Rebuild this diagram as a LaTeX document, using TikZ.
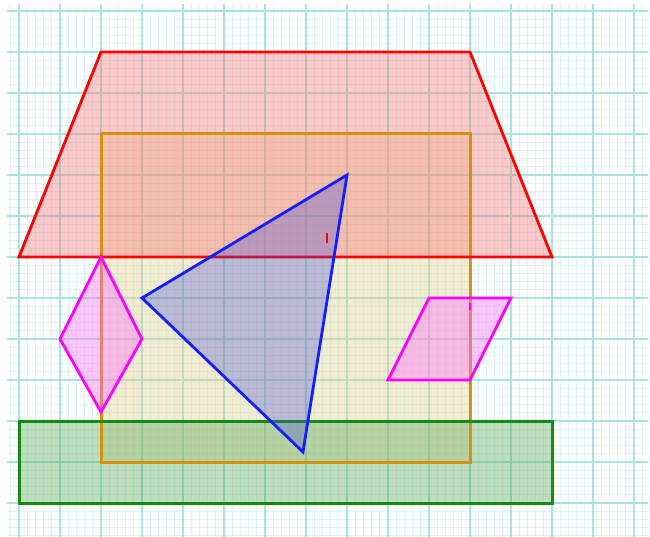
\documentclass[tikz,border=0pt]{standalone}
\definecolor{gridminor}{RGB}{222,245,245}
\definecolor{gridmajor}{RGB}{168,228,228}
\definecolor{redline}{RGB}{255,0,0}
\definecolor{redfill}{RGB}{246,120,120}
\definecolor{orangeline}{RGB}{210,145,15}
\definecolor{orangefill}{RGB}{225,205,140}
\definecolor{greenline}{RGB}{20,140,20}
\definecolor{greenfill}{RGB}{90,170,90}
\definecolor{magline}{RGB}{255,0,255}
\definecolor{magfill}{RGB}{255,110,255}
\definecolor{blueline}{RGB}{20,30,255}
\definecolor{bluefill}{RGB}{60,70,220}
\begin{document}
\begin{tikzpicture}[x=1pt,y=-1pt,
  minorgrid/.style={draw=gridminor, line width=0.9pt},
  majorgrid/.style={draw=gridmajor, line width=1.2pt},
  shapeline/.style={line width=2.8pt, line join=miter},
  redfillst/.style={fill=redfill, fill opacity=0.4},
  redlinest/.style={shapeline, draw=redline},
  greenfillst/.style={fill=greenfill, fill opacity=0.4},
  greenlinest/.style={line width=3pt, draw=greenline},
  orangefillst/.style={fill=orangefill, fill opacity=0.4},
  orangelinest/.style={line width=3pt, draw=orangeline},
  magentashape/.style={shapeline, draw=magline, fill=magfill, fill opacity=0.4},
  blueshape/.style={shapeline, draw=blueline, fill=bluefill, fill opacity=0.3},
  tickst/.style={line width=1.6pt}]
\useasboundingbox (0,0) rectangle (650,537);
\fill[white] (0,0) rectangle (650,537);
\begin{scope}
\clip (7,5) rectangle (648,537);
\foreach \i in {-3,...,80} {
  \draw[minorgrid] ({19+8.2*\i},0) -- ({19+8.2*\i},537);
}
\foreach \i in {-2,...,66} {
  \draw[minorgrid] (0,{11+8.2*\i}) -- (650,{11+8.2*\i});
}
\foreach \i in {0,...,15} {
  \draw[majorgrid] ({19+41*\i},0) -- ({19+41*\i},537);
}
\foreach \i in {0,...,13} {
  \draw[majorgrid] (0,{11+41*\i}) -- (650,{11+41*\i});
}
\end{scope}
% coordinates
\coordinate (r1) at (101,52);
\coordinate (r2) at (470,52);
\coordinate (r3) at (552,257);
\coordinate (r4) at (19,257);
\coordinate (o1) at (101,134);
\coordinate (o2) at (470,134);
\coordinate (o3) at (470,462);
\coordinate (o4) at (101,462);
\coordinate (g1) at (19,421);
\coordinate (g2) at (552,421);
\coordinate (g3) at (552,503);
\coordinate (g4) at (19,503);
% fills
\fill[orangefillst] (o1) -- (o2) -- (o3) -- (o4) -- cycle;
\fill[redfillst] (r1) -- (r2) -- (r3) -- (r4) -- cycle;
\fill[greenfillst] (g1) -- (g2) -- (g3) -- (g4) -- cycle;
% outlines
\draw[orangelinest] (o1) -- (o2) -- (o3) -- (o4) -- cycle;
\draw[redlinest] (r1) -- (r2) -- (r3) -- (r4) -- cycle;
\draw[greenlinest] (g1) -- (g2) -- (g3) -- (g4) -- cycle;
% magenta diamond
\coordinate (d1) at (101,257);
\coordinate (d2) at (142,339);
\coordinate (d3) at (101,412);
\coordinate (d4) at (60,339);
\draw[magentashape] (d1) -- (d2) -- (d3) -- (d4) -- cycle;
% magenta parallelogram
\coordinate (p1) at (429,298);
\coordinate (p2) at (511,298);
\coordinate (p3) at (470,380);
\coordinate (p4) at (388,380);
\draw[magentashape] (p1) -- (p2) -- (p3) -- (p4) -- cycle;
% blue triangle
\coordinate (t1) at (347,175);
\coordinate (t2) at (142,298);
\coordinate (t3) at (303,452);
\draw[blueshape] (t1) -- (t2) -- (t3) -- cycle;
% small ticks
\coordinate (k1) at (327,233);
\coordinate (k2) at (327,243);
\draw[tickst, draw=redline] (k1) -- (k2);
\coordinate (m1) at (470,303);
\coordinate (m2) at (470,310);
\draw[tickst, draw=magline] (m1) -- (m2);
\end{tikzpicture}
\end{document}
